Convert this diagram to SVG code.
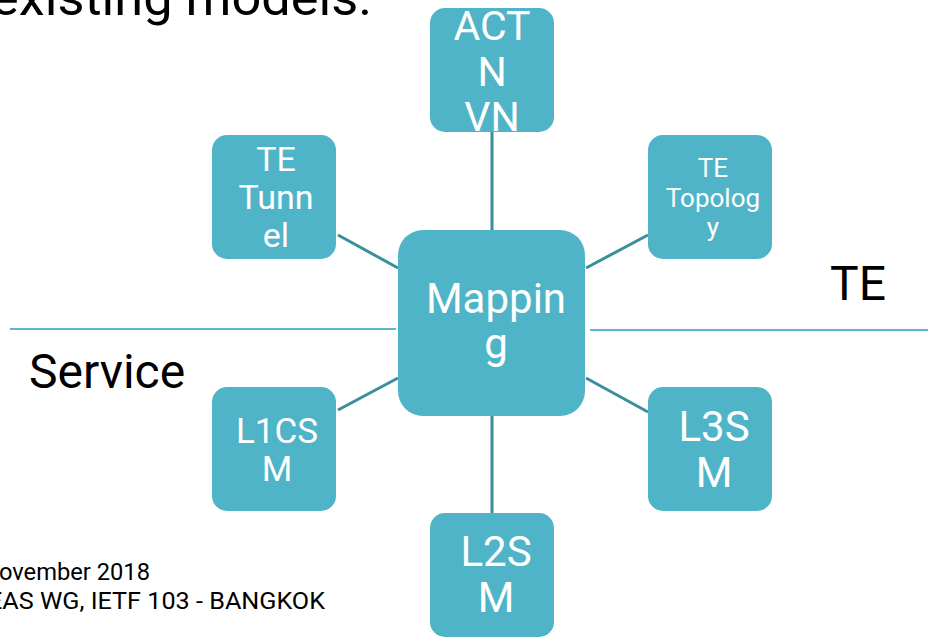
<svg xmlns="http://www.w3.org/2000/svg" width="928" height="639" viewBox="0 0 928 639">
<style>
.box{fill:#4fb4c7;}
.nt{font-family:Roboto,"Liberation Sans",sans-serif;fill:#fff;text-anchor:middle;}
.lbl{font-family:Roboto,"Liberation Sans",sans-serif;fill:#000;}
.conn{stroke:#3b8e9e;stroke-width:3;fill:none;}
.sep{stroke:#5ab6c8;stroke-width:2;fill:none;}
</style>
<rect width="928" height="639" fill="#fff"/>
<text class="lbl" x="-9" y="15" font-size="50" fill="#222" textLength="381" lengthAdjust="spacingAndGlyphs">existing models.</text>
<text class="lbl" x="29" y="388" font-size="48">Service</text>
<text class="lbl" x="830" y="300" font-size="48">TE</text>
<text class="lbl" x="-18" y="580" font-size="24" textLength="168" lengthAdjust="spacingAndGlyphs">November 2018</text>
<text class="lbl" x="-27" y="609" font-size="24" textLength="352" lengthAdjust="spacingAndGlyphs">TEAS WG, IETF 103 - BANGKOK</text>
<g id="separators">
<line class="sep" x1="10" y1="329" x2="396" y2="329"/>
<line class="sep" x1="590" y1="330" x2="928" y2="330"/>
</g>
<g id="connectors">
<line class="conn" x1="492" y1="132" x2="492" y2="230"/>
<line class="conn" x1="338" y1="235" x2="398" y2="268"/>
<line class="conn" x1="586" y1="268" x2="648" y2="235"/>
<line class="conn" x1="338" y1="410" x2="398" y2="378"/>
<line class="conn" x1="586" y1="378" x2="648" y2="412"/>
<line class="conn" x1="492" y1="416" x2="492" y2="513"/>
</g>
<g id="actn">
<rect class="box" x="430" y="8" width="124" height="124" rx="15"/>
<text class="nt" font-size="41"><tspan x="492" y="40">ACT</tspan><tspan x="492" y="86">N</tspan><tspan x="492" y="131">VN</tspan></text>
</g>
<g id="te-tunnel">
<rect class="box" x="212" y="135" width="124" height="124" rx="15"/>
<text class="nt" font-size="34"><tspan x="276" y="171">TE</tspan><tspan x="276" y="209">Tunn</tspan><tspan x="276" y="247">el</tspan></text>
</g>
<g id="te-topology">
<rect class="box" x="648" y="135" width="124" height="124" rx="15"/>
<text class="nt" font-size="26"><tspan x="713" y="177">TE</tspan><tspan x="713" y="207">Topolog</tspan><tspan x="713" y="236">y</tspan></text>
</g>
<g id="mapping">
<rect class="box" x="398" y="230" width="187" height="186" rx="25"/>
<text class="nt" font-size="42"><tspan x="496" y="313">Mappin</tspan><tspan x="496" y="358">g</tspan></text>
</g>
<g id="l1csm">
<rect class="box" x="212" y="387" width="124" height="124" rx="15"/>
<text class="nt" font-size="35"><tspan x="277" y="443">L1CS</tspan><tspan x="277" y="481">M</tspan></text>
</g>
<g id="l3sm">
<rect class="box" x="648" y="387" width="124" height="124" rx="15"/>
<text class="nt" font-size="42"><tspan x="714" y="441">L3S</tspan><tspan x="714" y="487">M</tspan></text>
</g>
<g id="l2sm">
<rect class="box" x="430" y="513" width="124" height="124" rx="15"/>
<text class="nt" font-size="42"><tspan x="496" y="566">L2S</tspan><tspan x="496" y="612">M</tspan></text>
</g>
</svg>
